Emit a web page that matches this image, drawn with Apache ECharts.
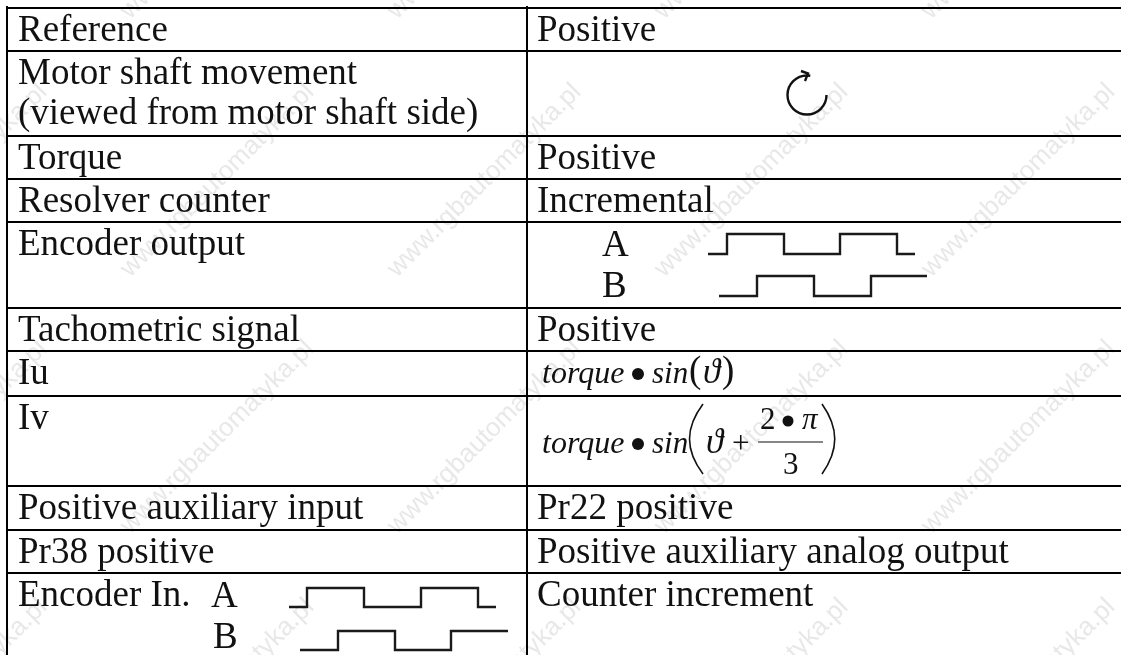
<!DOCTYPE html>
<html>
<head>
<meta charset="utf-8">
<style>
html, body { margin: 0; padding: 0; background: #fff; }
#main { width: 1121px; height: 655px; }
</style>
<script src="https://cdn.jsdelivr.net/npm/echarts@6/dist/echarts.min.js"></script>
</head>
<body>
<div id="main"></div>
<script>
// table contents
const leftLabels = [
    ['Reference'],
    ['Motor shaft movement', '(viewed from motor shaft side)'],
    ['Torque'],
    ['Resolver counter'],
    ['Encoder output'],
    ['Tachometric signal'],
    ['Iu'],
    ['Iv'],
    ['Positive auxiliary input'],
    ['Pr38 positive'],
    ['Encoder In.']
]
const rightLabels = [
    ['Positive'],
    [],
    ['Positive'],
    ['Incremental'],
    [],
    ['Positive'],
    [],
    [],
    ['Pr22 positive'],
    ['Positive auxiliary analog output'],
    ['Counter increment']
]
// table rules
const rowEdges = [8, 51, 136, 179, 222, 308, 351, 396, 486, 530, 573]
const columnEdges = [7, 527]
// pulse trains: x of each edge, the line starts low
const encOutA = [708, 727, 784, 840, 897, 915]
const encOutB = [719, 757, 814, 871, 927]
const encInA = [289, 307, 364, 421, 478, 496]
const encInB = [300, 338, 395, 451, 508]
const watermarkX = [-142, 125, 392, 659, 926, 1193]
const watermarkY = [15, 273, 530, 788]

const W = 1121
const H = 655
const SERIF = '"Liberation Serif", "Times New Roman", serif'
const INK = '#111'

// builds the step line for one pulse train
function pulse(edges, low, high) {
    let pts = [[edges[0], low]]
    let level = low
    edges.slice(1, -1).forEach(x => {
        pts.push([x, level])
        level = level === low ? high : low
        pts.push([x, level])
    })
    pts.push([edges[edges.length - 1], level])
    return pts
}

function pulseSeries(edges, low, high) {
    return {
        type: 'line',
        data: pulse(edges, low, high),
        symbol: 'none',
        silent: true,
        z: 3,
        lineStyle: { color: '#1a1a1a', width: 2.4, join: 'miter' }
    }
}

function textSeries(items, z) {
    return {
        type: 'custom',
        coordinateSystem: 'cartesian2d',
        silent: true,
        clip: false,
        z: z || 4,
        data: items.map(d => [d.x, d.y]),
        renderItem: (params, api) => {
            let d = items[params.dataIndex]
            let p = api.coord([d.x, d.y])
            let size = d.size || 37
            return {
                type: 'text',
                x: p[0],
                y: p[1] - 0.26 * size,
                style: {
                    text: d.t,
                    fill: INK,
                    font: (d.italic ? 'italic ' : '') + size + 'px ' + SERIF,
                    align: d.align || 'left',
                    verticalAlign: 'middle'
                }
            }
        }
    }
}

// cell text
let cellText = []
function addCells(labels, x) {
    labels.forEach((lines, i) => {
        lines.forEach((t, j) => {
            cellText.push({ t: t, x: x, y: rowEdges[i] + 33 + j * 40 })
        })
    })
}
addCells(leftLabels, 18)
addCells(rightLabels, 537)
cellText.push({ t: 'A', x: 602, y: rowEdges[4] + 34 })
cellText.push({ t: 'B', x: 602, y: rowEdges[4] + 75 })
cellText.push({ t: 'A', x: 211, y: rowEdges[10] + 34 })
cellText.push({ t: 'B', x: 213, y: rowEdges[10] + 75 })

// the two formulas
const f1 = rowEdges[6] + 32
const f2 = rowEdges[7] + 57
let formulaText = [
    { t: 'torque', x: 542, y: f1, size: 32, italic: true },
    { t: 'sin', x: 652, y: f1, size: 31, italic: true },
    { t: '(', x: 689, y: f1 - 1, size: 37 },
    { t: '\u03d1', x: 703, y: f1, size: 35, italic: true },
    { t: ')', x: 722, y: f1 - 1, size: 37 },
    { t: 'torque', x: 542, y: f2, size: 32, italic: true },
    { t: 'sin', x: 652, y: f2, size: 31, italic: true },
    { t: '\u03d1', x: 706, y: f2, size: 35, italic: true },
    { t: '+', x: 732, y: f2, size: 31 },
    { t: '2', x: 760, y: 429, size: 31 },
    { t: '\u03c0', x: 802, y: 429, size: 31, italic: true },
    { t: '3', x: 783, y: 474, size: 31 }
]
// the heavy multiplication dots of the formulas
const formulaDots = [[638, 374, 6], [638, 444, 6], [788, 421, 5.5]]

// rotated watermark text
let marks = []
watermarkY.forEach(y => watermarkX.forEach(x => marks.push([x, y])))

// horizontal and vertical rules, with gaps between them
let rules = []
rowEdges.forEach(y => rules.push([columnEdges[0] - 1, y], [W, y], [null, null]))
columnEdges.forEach(x => rules.push([x, rowEdges[0] - 2], [x, H], [null, null]))

// arrow and big brackets are glyph shapes, so they go through one custom item
const glyphSeries = {
    type: 'custom',
    coordinateSystem: 'cartesian2d',
    silent: true,
    clip: false,
    z: 4,
    data: [[807, 95]],
    renderItem: (params, api) => {
        let c = (x, y) => api.coord([x, y])
        let stroke = { stroke: INK, fill: null, lineWidth: 2.4 }
        let thin = { stroke: INK, fill: null, lineWidth: 1.6 }
        let o = c(807, 95)
        let dots = formulaDots.map(d => ({
            type: 'circle',
            shape: { cx: c(d[0], d[1])[0], cy: c(d[0], d[1])[1], r: d[2] },
            style: { fill: INK }
        }))
        return {
            type: 'group',
            children: dots.concat([
                {
                    type: 'arc',
                    shape: { cx: o[0], cy: o[1], r: 19.5, startAngle: 0, endAngle: -1.4, clockwise: true },
                    style: stroke
                },
                {
                    type: 'polyline',
                    shape: { points: [c(801, 71), c(808, 73.5), c(805, 81)] },
                    style: stroke
                },
                {
                    type: 'bezierCurve',
                    shape: { x1: c(703, 404)[0], y1: c(703, 404)[1], x2: c(703, 474)[0], y2: c(703, 474)[1],
                        cpx1: c(685, 428)[0], cpy1: c(685, 428)[1], cpx2: c(685, 450)[0], cpy2: c(685, 450)[1] },
                    style: thin
                },
                {
                    type: 'bezierCurve',
                    shape: { x1: c(822, 404)[0], y1: c(822, 404)[1], x2: c(822, 474)[0], y2: c(822, 474)[1],
                        cpx1: c(839, 428)[0], cpy1: c(839, 428)[1], cpx2: c(839, 450)[0], cpy2: c(839, 450)[1] },
                    style: thin
                },
                {
                    type: 'line',
                    shape: { x1: c(758, 442)[0], y1: c(758, 442)[1], x2: c(823, 442)[0], y2: c(823, 442)[1] },
                    style: { stroke: INK, lineWidth: 1.2 }
                }
            ])
        }
    }
}

const chart = echarts.init(document.getElementById('main'), null, { renderer: 'canvas' })
chart.setOption({
    animation: false,
    backgroundColor: '#fff',
    grid: { left: 0, right: 0, top: 0, bottom: 0 },
    xAxis: { type: 'value', min: 0, max: W, show: false },
    yAxis: { type: 'value', min: 0, max: H, inverse: true, show: false },
    series: [
        {
            type: 'custom',
            coordinateSystem: 'cartesian2d',
            silent: true,
            clip: false,
            z: 1,
            data: marks,
            renderItem: (params, api) => {
                let p = api.coord([api.value(0), api.value(1)])
                return {
                    type: 'text',
                    x: p[0],
                    y: p[1],
                    rotation: Math.PI / 4,
                    style: {
                        text: 'www.rgbautomatyka.pl',
                        fill: '#e8e8e8',
                        font: '26px "Liberation Sans", Arial, sans-serif',
                        align: 'left',
                        verticalAlign: 'middle'
                    }
                }
            }
        },
        {
            type: 'line',
            data: rules,
            symbol: 'none',
            silent: true,
            connectNulls: false,
            z: 2,
            lineStyle: { color: '#000', width: 2 }
        },
        pulseSeries(encOutA, 254, 234),
        pulseSeries(encOutB, 296, 276),
        pulseSeries(encInA, 607, 588),
        pulseSeries(encInB, 650, 631),
        textSeries(cellText),
        textSeries(formulaText),
        glyphSeries
    ]
})
</script>
</body>
</html>
